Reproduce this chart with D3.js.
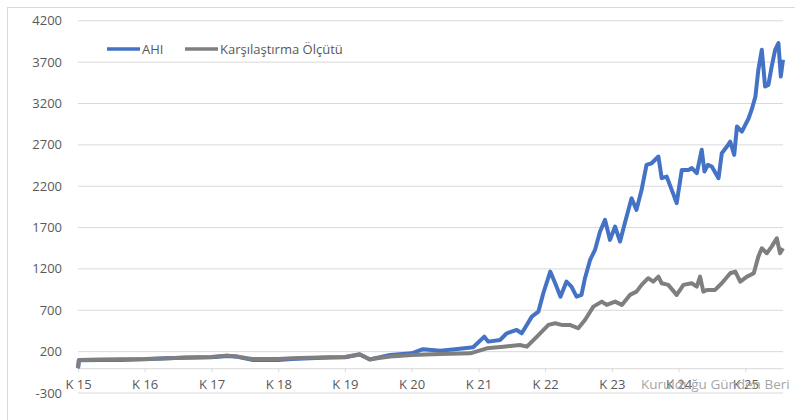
<!DOCTYPE html>
<html>
<head>
<meta charset="utf-8">
<script src="https://cdn.jsdelivr.net/npm/d3@7"></script>
<style>
  body { margin: 0; background: #fff; }
  text { font-family: "Open Sans", "Noto Sans", sans-serif; }
</style>
</head>
<body>
<div id="chart"></div>
<script>
// AHI fund vs benchmark
var ahiDates = ["2015-01-01","2015-01-06","2015-05-01","2015-08-17","2016-01-02","2016-04-20","2016-08-08","2016-12-29",
	"2017-03-31","2017-05-24","2017-08-10","2017-12-31","2018-03-16","2018-06-23","2018-10-11","2019-01-02","2019-03-23",
	"2019-05-17","2019-09-05","2020-01-02","2020-03-03","2020-06-05","2020-08-26","2020-12-03","2021-02-02","2021-02-23",
	"2021-04-29","2021-06-05","2021-07-29","2021-08-26","2021-10-20","2021-11-25","2021-12-22","2022-01-29","2022-02-25",
	"2022-03-26","2022-04-28","2022-05-25","2022-06-22","2022-07-19","2022-08-07","2022-09-04","2022-10-01","2022-10-28",
	"2022-11-25","2022-12-22","2023-01-19","2023-02-15","2023-03-13","2023-04-19","2023-05-16","2023-06-13","2023-07-10",
	"2023-08-07","2023-09-13","2023-10-01","2023-10-28","2023-11-25","2023-12-22","2024-01-19","2024-02-25","2024-03-14",
	"2024-04-10","2024-05-07","2024-05-22","2024-06-10","2024-07-01","2024-08-07","2024-08-25","2024-09-22","2024-10-10","2024-11-01",
	"2024-11-16","2024-12-13","2025-01-19","2025-02-07","2025-02-25","2025-03-13","2025-04-01","2025-04-19","2025-05-07",
	"2025-05-25","2025-06-13","2025-07-01","2025-07-14","2025-07-26"];
var ahiValues = [0,95,100,100,108,120,125,133,
	148,138,100,100,112,120,128,133,165,
	105,160,180,230,212,230,253,381,321,
	341,422,462,422,623,684,906,1168,1027,
	865,1047,986,865,886,1088,1309,1430,1650,
	1793,1551,1712,1531,1753,2054,1914,2156,2458,
	2478,2559,2297,2317,2156,1995,2397,2397,2420,
	2357,2640,2378,2458,2438,2297,2599,2680,2740,2579,
	2922,2861,3022,3143,3284,3607,3849,3405,3425,
	3647,3849,3930,3526,3728];

var benchDates = ["2015-01-01","2015-01-06","2015-05-01","2015-08-17","2016-01-02","2016-04-20","2016-08-08","2016-12-29",
	"2017-03-31","2017-05-24","2017-08-10","2017-12-31","2018-03-16","2018-06-23","2018-10-11","2019-01-02","2019-03-23",
	"2019-05-17","2019-09-05","2020-01-02","2020-06-05","2020-11-17","2021-02-16","2021-05-17","2021-08-16","2021-09-23",
	"2021-11-17","2022-01-19","2022-02-25","2022-04-01","2022-05-16","2022-07-01","2022-08-07","2022-09-22","2022-11-07",
	"2022-12-04","2023-01-19","2023-02-25","2023-04-10","2023-05-16","2023-06-13","2023-07-19","2023-08-16","2023-09-13",
	"2023-10-01","2023-11-06","2023-12-22","2024-01-28","2024-03-13","2024-04-10","2024-04-28","2024-05-16","2024-06-04",
	"2024-07-19","2024-08-25","2024-10-10","2024-11-07","2024-12-04","2025-01-10","2025-02-16","2025-03-13","2025-04-01",
	"2025-04-28","2025-05-25","2025-06-22","2025-07-10","2025-07-26"];
var benchValues = [0,100,105,108,110,118,128,136,
	152,140,112,112,120,125,132,136,168,
	108,140,160,172,180,240,260,281,260,
	381,523,543,523,523,483,583,744,805,
	765,805,765,886,926,1007,1088,1047,1107,
	1027,1007,886,1007,1027,986,1107,926,946,
	946,1027,1148,1168,1047,1107,1148,1349,1450,
	1390,1470,1571,1390,1450];

var seriesNames = ["AHI", "Karşılaştırma Ölçütü"];
var seriesColors = ["#4472C4", "#7F7F7F"];
var yTicks = [-300,200,700,1200,1700,2200,2700,3200,3700,4200];
var xYears = [2015,2016,2017,2018,2019,2020,2021,2022,2023,2024,2025];
var note = "Kurulduğu Günden Beri";

var W = 795, H = 420;
var parse = d3.timeParse("%Y-%m-%d");

var svg = d3.select("#chart").append("svg").attr("width", W).attr("height", H);

// chart frame
svg.append("rect").attr("x", 7.5).attr("y", 7.5).attr("width", W + 20).attr("height", H + 20)
	.style("fill", "#fff").style("stroke", "#d9d9d9");

var x = d3.scaleTime().domain([parse("2015-01-01"), parse("2025-07-26")]).range([78, 783]);
var y = d3.scaleLinear().domain([-300, 4200]).range([393, 20.8]);

// gridlines
svg.append("g").selectAll("line").data(yTicks).enter().append("line")
	.attr("x1", 78).attr("x2", 783)
	.attr("y1", function(d){return y(d);}).attr("y2", function(d){return y(d);})
	.style("stroke", "#d9d9d9").style("stroke-width", 1);

svg.append("g").selectAll("text").data(yTicks).enter().append("text")
	.attr("x", 62).attr("y", function(d){return y(d);})
	.attr("dy", "0.35em").attr("text-anchor", "end")
	.style("font-size", "13px").style("fill", "#595959")
	.text(function(d){return d;});

// category axis at zero
var xAxis = d3.axisBottom(x)
	.tickValues(xYears.map(function(yr){return new Date(yr, 0, 1);}))
	.tickFormat(function(d){return "K " + String(d.getFullYear()).slice(2);})
	.tickSize(4).tickSizeOuter(0).tickPadding(8);

var gx = svg.append("g").attr("transform", "translate(0," + y(0) + ")").call(xAxis);
gx.select(".domain").style("stroke", "#d9d9d9");
gx.selectAll(".tick line").style("stroke", "#d9d9d9");
gx.selectAll(".tick text").style("font-size", "13px").style("fill", "#595959")
	.style("font-family", "'Open Sans', sans-serif");

var line = d3.line()
	.x(function(d){return x(d.date);})
	.y(function(d){return y(d.value);});

var ahi = ahiDates.map(function(d, i){return {date: parse(d), value: ahiValues[i]};});
var bench = benchDates.map(function(d, i){return {date: parse(d), value: benchValues[i]};});

[ahi, bench].forEach(function(s, i){
	svg.append("path").datum(s)
		.attr("d", line)
		.style("fill", "none")
		.style("stroke", seriesColors[i])
		.style("stroke-width", 4)
		.style("stroke-linejoin", "round");
});

// legend
var legX = [107, 185];
seriesNames.forEach(function(n, i){
	svg.append("line").attr("x1", legX[i]).attr("x2", legX[i] + 33)
		.attr("y1", 49).attr("y2", 49)
		.style("stroke", seriesColors[i]).style("stroke-width", 3.5);
	svg.append("text").attr("x", legX[i] + 35).attr("y", 49).attr("dy", "0.35em")
		.style("font-size", "13px").style("fill", "#595959").text(n);
});

// the overlap with K 24 / K 25 is in the original too
svg.append("text").attr("x", 641).attr("y", 389)
	.style("font-size", "13.5px").style("fill", "#a6a6a6").text(note);
</script>
</body>
</html>
